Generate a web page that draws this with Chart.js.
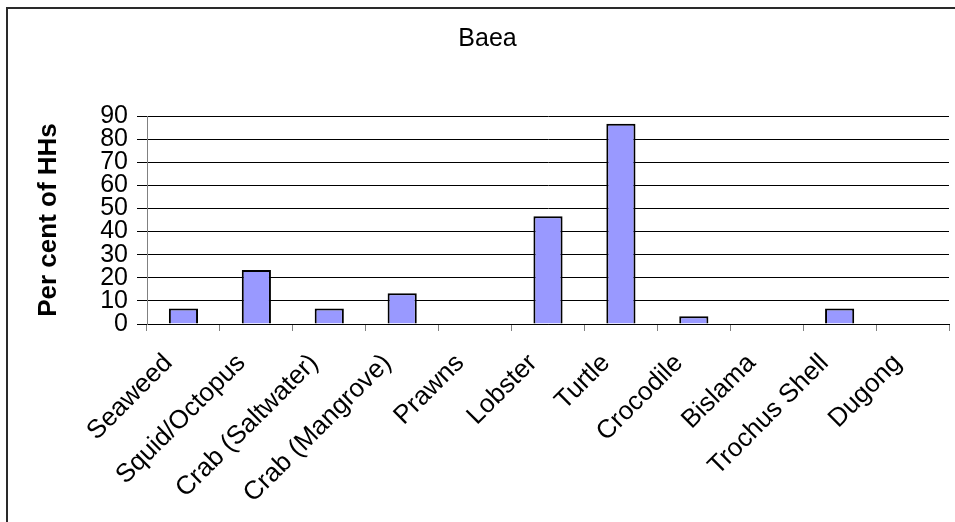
<!DOCTYPE html>
<html>
<head>
<meta charset="utf-8">
<title>Baea</title>
<script src="https://cdn.jsdelivr.net/npm/chart.js@4"></script>
<style>
  html, body { margin: 0; padding: 0; background: #ffffff; }
  #wrap { position: relative; width: 955px; height: 522px; }
</style>
</head>
<body>
<div id="wrap"><canvas id="chart" width="955" height="522"></canvas></div>
<script>
// Marine resources harvested, share of households
const chartTitle = 'Baea';
const yAxisLabel = 'Per cent of HHs';
const categories = [
  'Seaweed', 'Squid/Octopus', 'Crab (Saltwater)', 'Crab (Mangrove)', 'Prawns',
  'Lobster', 'Turtle', 'Crocodile', 'Bislama', 'Trochus Shell', 'Dugong'
];
const percentOfHouseholds = [6.67, 23.33, 6.67, 13.33, 0, 46.67, 86.67, 3.33, 0, 6.67, 0];
const yMin = 0;
const yMax = 90;
const yStep = 10;

const FONT = '"Liberation Sans", Arial, sans-serif';

// Outer frame of the chart (runs past the right and bottom edges of the canvas)
const framePlugin = {
  id: 'frame',
  beforeDraw(chart) {
    const ctx = chart.ctx;
    ctx.save();
    ctx.fillStyle = '#ffffff';
    ctx.fillRect(0, 0, chart.width, chart.height);
    ctx.strokeStyle = '#2a2a2a';
    ctx.lineWidth = 2;
    ctx.strokeRect(7, 8, chart.width + 20, chart.height + 20);
    ctx.restore();
  }
};

new Chart(document.getElementById('chart'), {
  type: 'bar',
  data: {
    labels: categories,
    datasets: [{
      data: percentOfHouseholds,
      backgroundColor: '#9999ff',
      borderColor: '#000000',
      borderWidth: 2,
      categoryPercentage: 1.0,
      barPercentage: 0.4
    }]
  },
  options: {
    responsive: false,
    animation: false,
    devicePixelRatio: 1,
    layout: { padding: { left: 26, right: 6, top: 0, bottom: 0 } },
    plugins: {
      legend: { display: false },
      tooltip: { enabled: false },
      title: {
        display: true,
        text: chartTitle,
        color: '#000000',
        font: { family: FONT, size: 25, weight: 'normal', lineHeight: 1.2 },
        padding: { top: 24, bottom: 62 }
      }
    },
    scales: {
      x: {
        grid: {
          drawOnChartArea: false,
          drawTicks: true,
          tickLength: 7,
          color: '#808080',
          offset: true
        },
        border: { display: true, color: '#000000', width: 1 },
        ticks: {
          autoSkip: false,
          minRotation: 45,
          maxRotation: 45,
          padding: 17,
          labelOffset: -15,
          color: '#000000',
          font: { family: FONT, size: 26 }
        },
        afterFit(scale) { scale.height = 198; }
      },
      y: {
        min: yMin,
        max: yMax,
        grid: {
          color: '#000000',
          lineWidth: 1,
          tickLength: 10,
          drawTicks: true
        },
        border: { display: true, color: '#808080', width: 1 },
        ticks: {
          stepSize: yStep,
          autoSkip: false,
          padding: 9,
          color: '#000000',
          font: { family: FONT, size: 25 }
        },
        title: {
          display: true,
          text: yAxisLabel,
          color: '#000000',
          font: { family: FONT, size: 26, weight: 'bold', lineHeight: 1.2 },
          padding: { top: 7, bottom: 0 }
        },
        afterFit(scale) { scale.width = 121; }
      }
    }
  },
  plugins: [framePlugin]
});
</script>
</body>
</html>
